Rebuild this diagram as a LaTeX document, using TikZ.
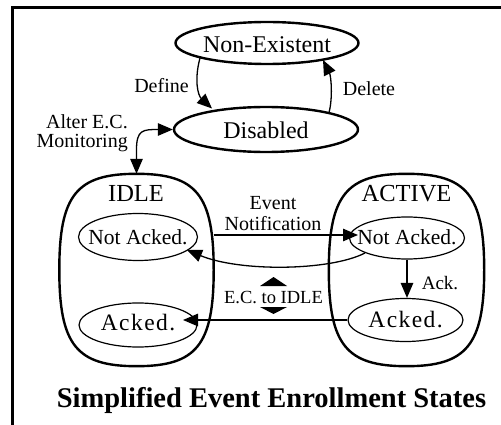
\documentclass[tikz,border=0pt]{standalone}
\usepackage{fontspec}
\setmainfont{Liberation Serif}
\usetikzlibrary{shapes.geometric,arrows.meta,calc}

% two stacked lines with a fixed baseline distance; the box baseline is the last line
\newcommand\stackright[3]{\vbox{\baselineskip=#3\lineskiplimit=-50pt\halign{\hfil##\cr#1\cr#2\cr}}}
\newcommand\stackcenter[3]{\vbox{\baselineskip=#3\lineskiplimit=-50pt\halign{\hfil##\hfil\cr#1\cr#2\cr}}}
% rounded outline drawn around an (invisible) region node
\newcommand\roundregion[1]{%
  \draw[regionline] (#1.north) .. controls +(60,0) and +(0,-75) .. (#1.east)
    .. controls +(0,75) and +(60,0) .. (#1.south)
    .. controls +(-60,0) and +(0,75) .. (#1.west)
    .. controls +(0,-75) and +(-60,0) .. (#1.north) -- cycle;}

\begin{document}
\begin{tikzpicture}[x=1pt,y=-1pt,
  outerstate/.style={ellipse,draw,line width=2.4pt,inner sep=0pt,text depth=0pt,
    font=\fontsize{24}{28}\selectfont},
  innerstate/.style={ellipse,draw,line width=1.2pt,inner sep=0pt,text depth=0pt},
  notacked/.style={innerstate,font=\fontsize{21.5}{24}\selectfont},
  acked/.style={innerstate,font=\fontsize{23.5}{26}\selectfont\addfontfeature{LetterSpace=6}},
  regionbox/.style={draw=none,inner sep=0pt},
  regionline/.style={line width=2.4pt},
  lbl/.style={inner sep=0pt,anchor=base,font=\fontsize{20}{16}\selectfont},
  arr/.style={line width=1.3pt,-{Triangle[length=15pt,width=12.5pt]}},
  darr/.style={line width=1.3pt,{Triangle[length=15pt,width=12.5pt]}-{Triangle[length=15pt,width=12.5pt]}},
]
\useasboundingbox (0,0) rectangle (501,425);

% frame
\draw[line width=2.6pt] (12.5,440) -- (12.5,7.5) -- (520,7.5);

% top-level states
\node[outerstate,minimum width=183pt,minimum height=42pt,text height=19pt] (ne) at (267,43) {\makebox[0pt]{Non-Existent}};
\node[outerstate,minimum width=184pt,minimum height=45pt,text height=19pt] (dis) at (266,129.5) {\makebox[0pt]{Disabled}};

% IDLE and ACTIVE regions
\node[regionbox,minimum width=154pt,minimum height=192pt] (idle) at (136.5,270) {};
\node[regionbox,minimum width=155pt,minimum height=192pt] (act) at (406.5,270) {};
\roundregion{idle}
\roundregion{act}
\node[lbl,font=\fontsize{24.5}{28}\selectfont] (idlelbl) at (136,202) {IDLE};
\node[lbl,font=\fontsize{24.5}{28}\selectfont] (actlbl) at (406.5,202) {ACTIVE};

% sub-states
\node[notacked,minimum width=119pt,minimum height=47pt,text height=14pt] (inA) at (138,237) {\makebox[0pt]{Not Acked.}};
\node[notacked,minimum width=115pt,minimum height=42pt,text height=12pt] (acA) at (407,238) {\makebox[0pt]{Not Acked.}};
\node[acked,minimum width=118pt,minimum height=44pt,text height=11.5pt] (inB) at (138,325) {\makebox[0pt]{Acked.}};
\node[acked,minimum width=115pt,minimum height=43pt,text height=14pt] (acB) at (405.5,320) {\makebox[0pt]{Acked.}};

% labels
\node[lbl] (deflbl) at (161.5,93) {Define};
\node[lbl] (dellbl) at (369,96) {Delete};
\node[lbl,anchor=base east] (alterlbl) at (128,148) {\stackright{Alter E.C.}{Monitoring}{19pt}};
\node[lbl,font=\fontsize{20}{21}\selectfont] (evtlbl) at (273,230) {\stackcenter{Event}{Notification}{21pt}};
\node[lbl,font=\fontsize{19}{22}\selectfont] (acklbl) at (440,289) {Ack.};
\node[lbl,font=\fontsize{18.5}{22}\selectfont] (eclbl) at (273.5,303) {E.C. to IDLE};
\node[lbl,font=\fontsize{28.5}{32}\selectfont\bfseries] (title) at (271.5,407) {Simplified Event Enrollment States};

% up/down marks around the E.C. to IDLE label
\fill ($(eclbl.base)+(-13.5,-17)$) -- ($(eclbl.base)+(13.5,-17)$) -- ($(eclbl.base)+(0,-26)$) -- cycle;
\fill ($(eclbl.base)+(-13.5,4)$) -- ($(eclbl.base)+(13.5,4)$) -- ($(eclbl.base)+(0,11)$) -- cycle;

% transitions
\draw[arr] ($(ne)+(-67,15)$) .. controls +(-6,22) and +(-14,-13) .. ($(dis)+(-54,-21)$);
\draw[arr] ($(dis)+(63,-17)$) .. controls +(4,-15) and +(8,16) .. ($(ne)+(56,17)$);
\draw[darr] (dis.west) .. controls +(-30,0) and +(0,-20) .. ($(idle.north)+(0,-24)$) -- (idle.north);
\draw[arr] ($(idle.east)+(0,-35)$) -- ($(acA)+(-49,-3)$);
\draw[arr] ($(acA)+(-42,15)$) .. controls +(-35,18) and +(53,22) .. ($(inA)+(49,13)$);
\draw[arr] (acA.south) -- (acA.south |- acB.north);
\draw[arr] (acB.west) -- ($(inB)+(45,-5)$);
\end{tikzpicture}
\end{document}
